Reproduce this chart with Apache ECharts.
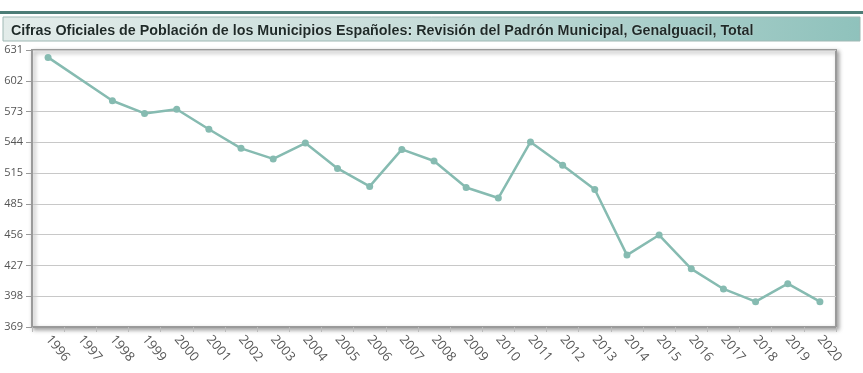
<!DOCTYPE html>
<html>
<head>
<meta charset="utf-8">
<script src="https://cdn.jsdelivr.net/npm/echarts@6/dist/echarts.min.js"></script>
<style>
html,body{margin:0;padding:0;background:#fff;}
#c{width:863px;height:373px;}
</style>
</head>
<body>
<div id="c"></div>
<script>
const titleText = 'Cifras Oficiales de Población de los Municipios Españoles: Revisión del Padrón Municipal, Genalguacil, Total';
const years = ['1996','1997','1998','1999','2000','2001','2002','2003','2004','2005','2006','2007','2008','2009','2010','2011','2012','2013','2014','2015','2016','2017','2018','2019','2020'];
const population = [624, null, 583, 571, 575, 556, 538, 528, 543, 519, 502, 537, 526, 501, 491, 544, 522, 499, 437, 456, 424, 405, 393, 410, 393];
const yMin = 369;
const yMax = 631;
const ySteps = 9;

const chart = echarts.init(document.getElementById('c'), null, {renderer:'canvas'});
chart.setOption({
  animation:false,
  backgroundColor:'#fff',
  graphic:[
    {type:'rect', shape:{x:0,y:11,width:863,height:3}, style:{fill:'#4d7d77'}, z:-1},
    {type:'rect', shape:{x:3,y:17,width:857,height:24},
      style:{fill:new echarts.graphic.LinearGradient(0,0,1,1,[
        {offset:0,color:'#e3ecea'},{offset:0.5,color:'#c6dcd9'},{offset:1,color:'#8fc2bc'}]),
        stroke:'#9fb8b4', lineWidth:1}, z:-1},
    {type:'rect', shape:{x:32,y:50,width:804,height:277},
      style:{fill:'#fff', stroke:'#9a9a9a', lineWidth:2, shadowBlur:4, shadowOffsetX:2, shadowOffsetY:2, shadowColor:'rgba(0,0,0,0.35)'}, z:-1}
  ],
  title:{
    text:titleText,
    left:6, top:19,
    textStyle:{fontFamily:'Liberation Sans, Arial, sans-serif', fontSize:14.3, fontWeight:'bold', color:'#1e2a28',
      textShadowColor:'rgba(255,255,255,0.8)', textShadowBlur:1}
  },
  grid:{left:32, right:27, top:50, bottom:46, containLabel:false},
  xAxis:{
    type:'category',
    data:years,
    boundaryGap:true,
    axisLine:{show:true, lineStyle:{color:'#9a9a9a', width:2}},
    axisTick:{show:true, alignWithLabel:false, length:5, lineStyle:{color:'#bbbbbb'}},
    axisLabel:{rotate:-50, interval:0, color:'#555', fontFamily:'Open Sans, sans-serif', fontSize:13, margin:10},
    splitLine:{show:false}
  },
  yAxis:{
    type:'value',
    min:yMin, max:yMax, interval:(yMax-yMin)/ySteps,
    axisLine:{show:true, lineStyle:{color:'#9a9a9a', width:2}},
    axisTick:{show:true, length:6, lineStyle:{color:'#999'}},
    axisLabel:{color:'#555', fontFamily:'Open Sans, sans-serif', fontSize:11, margin:9,
      formatter:v=>String(Math.round(v))},
    splitLine:{show:true, lineStyle:{color:'#c8c8c8', width:1}}
  },
  series:[{
    type:'line',
    data:population,
    connectNulls:true,
    symbol:'circle',
    symbolSize:7,
    lineStyle:{color:'#86bbb1', width:2.5},
    itemStyle:{color:'#86bbb1'}
  }]
});
</script>
</body>
</html>
